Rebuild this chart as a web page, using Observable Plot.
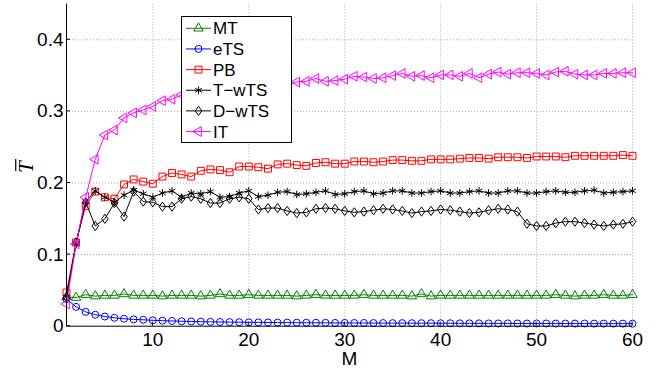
<!DOCTYPE html>
<html><head><meta charset="utf-8">
<script src="https://cdn.jsdelivr.net/npm/d3@7"></script>
<script src="https://cdn.jsdelivr.net/npm/@observablehq/plot@0.6"></script>
<style>body{margin:0;background:#fff;} #chart svg{display:block;}</style>
</head><body><div id="chart"></div>
<script>
const M = d3.range(1, 61);
const seriesNames = ["MT", "eTS", "PB", "T\u2212wTS", "D\u2212wTS", "IT"];
const seriesColors = ["#008000", "#0000ff", "#ff0000", "#000000", "#000000", "#ff00ff"];

const MT = [0.041,0.040,0.044,0.042,0.043,0.043,0.045,0.043,0.043,0.043,
 0.042,0.043,0.043,0.043,0.042,0.043,0.045,0.043,0.043,0.044,
 0.043,0.043,0.043,0.043,0.042,0.043,0.044,0.043,0.043,0.043,
 0.043,0.044,0.043,0.043,0.043,0.043,0.042,0.045,0.042,0.043,
 0.043,0.043,0.043,0.043,0.043,0.043,0.043,0.043,0.043,0.043,
 0.043,0.044,0.043,0.042,0.043,0.043,0.044,0.043,0.043,0.044];
const eTS = [0.038,0.027,0.020,0.016,0.0135,0.0117,0.0104,0.0095,0.0090,0.0082,
 0.0077,0.0073,0.0069,0.0066,0.0063,0.0061,0.0059,0.0057,0.0056,0.0054,
 0.0053,0.0052,0.0051,0.0050,0.0049,0.0048,0.0048,0.0047,0.0046,0.0046,
 0.0045,0.0045,0.0044,0.0044,0.0043,0.0043,0.0042,0.0042,0.0042,0.0041,
 0.0041,0.0040,0.0040,0.0040,0.0039,0.0039,0.0039,0.0038,0.0038,0.0038,
 0.0038,0.0037,0.0037,0.0037,0.0037,0.0036,0.0036,0.0036,0.0036,0.0035];
const PB = [0.047,0.117,0.168,0.188,0.180,0.178,0.198,0.205,0.202,0.199,
 0.209,0.214,0.212,0.209,0.217,0.219,0.218,0.215,0.223,0.223,
 0.222,0.220,0.226,0.227,0.225,0.224,0.228,0.229,0.227,0.227,
 0.230,0.230,0.229,0.230,0.232,0.232,0.231,0.231,0.233,0.233,
 0.233,0.234,0.235,0.235,0.234,0.236,0.236,0.236,0.235,0.237,
 0.237,0.237,0.236,0.238,0.238,0.238,0.238,0.238,0.239,0.238];
const TwTS = [0.041,0.115,0.174,0.189,0.180,0.173,0.183,0.190,0.185,0.180,
 0.186,0.189,0.180,0.186,0.185,0.188,0.180,0.181,0.186,0.189,
 0.181,0.183,0.187,0.188,0.184,0.185,0.187,0.189,0.184,0.185,
 0.188,0.189,0.185,0.186,0.189,0.189,0.186,0.186,0.188,0.189,
 0.186,0.186,0.188,0.189,0.186,0.186,0.189,0.189,0.186,0.186,
 0.188,0.189,0.187,0.187,0.189,0.190,0.186,0.187,0.188,0.189];
const DwTS = [0.040,0.117,0.173,0.140,0.150,0.172,0.153,0.188,0.174,0.173,
 0.167,0.167,0.178,0.181,0.178,0.172,0.172,0.178,0.180,0.178,
 0.163,0.165,0.165,0.161,0.158,0.159,0.164,0.165,0.164,0.161,
 0.159,0.160,0.162,0.164,0.163,0.161,0.158,0.160,0.161,0.163,
 0.162,0.160,0.158,0.159,0.162,0.164,0.163,0.160,0.143,0.140,
 0.140,0.144,0.146,0.146,0.144,0.142,0.140,0.142,0.143,0.146];
const IT = [0.031,0.115,0.180,0.233,0.267,0.274,0.291,0.298,0.302,0.307,
 0.315,0.317,0.323,0.326,0.328,0.331,0.330,0.333,0.335,0.334,
 0.337,0.336,0.339,0.338,0.341,0.342,0.346,0.342,0.343,0.345,
 0.349,0.348,0.346,0.347,0.350,0.353,0.349,0.350,0.347,0.351,
 0.351,0.349,0.353,0.347,0.352,0.355,0.352,0.354,0.354,0.353,
 0.351,0.355,0.356,0.352,0.351,0.351,0.353,0.353,0.354,0.354];
const seriesValues = [MT, eTS, PB, TwTS, DwTS, IT];

const xTicks = [10, 20, 30, 40, 50, 60];
const yTicks = [0, 0.1, 0.2, 0.3, 0.4];
const yTickLabels = ["0", "0.1", "0.2", "0.3", "0.4"];

const diamond = {draw(ctx, size) {
  const h = Math.sqrt(size) * 0.72, w = h * 0.72;
  ctx.moveTo(0, -h); ctx.lineTo(w, 0); ctx.lineTo(0, h); ctx.lineTo(-w, 0); ctx.closePath();
}};
const symbols = ["triangle", "circle", "square", "asterisk", diamond, "triangle"];
const rotations = [0, 0, 0, 0, 0, -90];
const radii = [3.5, 3.5, 3.9, 3.6, 3.6, 3.6];

const tables = seriesNames.map((name, s) => seriesValues[s].map((v, i) => ({series: name, M: M[i], T: v})));

const seriesMarks = tables.flatMap((rows, s) => [
  Plot.line(rows, {x: "M", y: "T", stroke: seriesColors[s], strokeWidth: 1}),
  Plot.dot(rows, {x: "M", y: "T", stroke: seriesColors[s], fill: "none", strokeWidth: 1,
    symbol: () => symbols[s], r: radii[s], rotate: rotations[s]})
]);

const gridStyle = {stroke: "#a8a8a8", strokeOpacity: 1, strokeDasharray: "1,2", strokeWidth: 1};

const chart = Plot.plot({
  width: 660, height: 369,
  marginLeft: 66, marginRight: 28, marginTop: 3.5, marginBottom: 43.3,
  style: {fontFamily: "'Liberation Sans', Arial, sans-serif", fontSize: "19px", background: "white", color: "black"},
  x: {domain: [1, 60], label: null},
  y: {domain: [0, 0.45], label: null},
  symbol: {type: "identity"},
  marks: [
    Plot.gridX(xTicks, gridStyle),
    Plot.gridY(yTicks.slice(1), gridStyle),
    Plot.axisX(xTicks, {tickSize: 0, tickPadding: 6, fontSize: 19, label: null}),
    Plot.axisY(yTicks, {tickSize: 0, tickPadding: 3, fontSize: 19, label: null,
      tickFormat: d => yTickLabels[yTicks.indexOf(d)]}),
    ...seriesMarks,
    Plot.ruleX([1], {stroke: "black", strokeWidth: 1}),
    Plot.ruleY([0], {stroke: "black", strokeWidth: 1}),
    Plot.text(["M"], {frameAnchor: "bottom", lineAnchor: "top", dy: 25.5, fontSize: 19}),
    Plot.text(["T"], {frameAnchor: "left", dx: -40, dy: 8, rotate: -90, fontSize: 21,
      fontStyle: "italic", fontFamily: "'Liberation Serif', 'DejaVu Serif', serif", ariaLabel: "ylabel"})
  ]
});
document.getElementById("chart").appendChild(chart);
const svg = d3.select(chart);
const xs = chart.scale("x"), ys = chart.scale("y");

// inward tick marks on both axes, placed with the chart's own scales
const x0 = xs.apply(1), y0 = ys.apply(0);
const ticks = svg.append("g").attr("stroke", "black").attr("stroke-width", 1);
xTicks.forEach(t => ticks.append("line").attr("x1", xs.apply(t)).attr("x2", xs.apply(t)).attr("y1", y0).attr("y2", y0 - 4));
yTicks.forEach(t => ticks.append("line").attr("x1", x0).attr("x2", x0 + 4).attr("y1", ys.apply(t)).attr("y2", ys.apply(t)));

// overline over the y label
svg.selectAll("text").filter(function() {
  return this.textContent === "T" && this.closest('[font-style="italic"]');
}).each(function() {
  const b = this.getBBox();
  d3.select(this.parentNode).append("line")
    .attr("transform", this.getAttribute("transform"))
    .attr("x1", b.x + 2).attr("x2", b.x + b.width + 1)
    .attr("y1", b.y + 1.5).attr("y2", b.y + 1.5)
    .attr("stroke", "black").attr("stroke-width", 1.2);
});

// legend
const lg = svg.append("g").attr("class", "legend");
const box = {x: 181, y: 16, w: 110, h: 126};
lg.append("rect").attr("x", box.x + 0.5).attr("y", box.y + 0.5).attr("width", box.w).attr("height", box.h)
  .attr("fill", "white").attr("stroke", "black").attr("stroke-width", 1);
const d3syms = {triangle: d3.symbolTriangle, circle: d3.symbolCircle, square: d3.symbolSquare, asterisk: d3.symbolAsterisk};
seriesNames.forEach((name, s) => {
  const cy = 28.3 + s * 20.65;
  lg.append("line").attr("x1", 186).attr("x2", 211).attr("y1", cy).attr("y2", cy)
    .attr("stroke", seriesColors[s]).attr("stroke-width", 1);
  const d3sym = d3syms[symbols[s]] || symbols[s];
  lg.append("path").attr("d", d3.symbol(d3sym, radii[s] * radii[s] * Math.PI)())
    .attr("transform", `translate(198.5,${cy}) rotate(${rotations[s]})`)
    .attr("fill", "none").attr("stroke", seriesColors[s]).attr("stroke-width", 1);
  lg.append("text").attr("x", 213).attr("y", cy).attr("dy", "0.35em").attr("text-anchor", "start")
    .attr("font-size", 17).attr("fill", "black").text(name);
});
</script>
</body></html>
